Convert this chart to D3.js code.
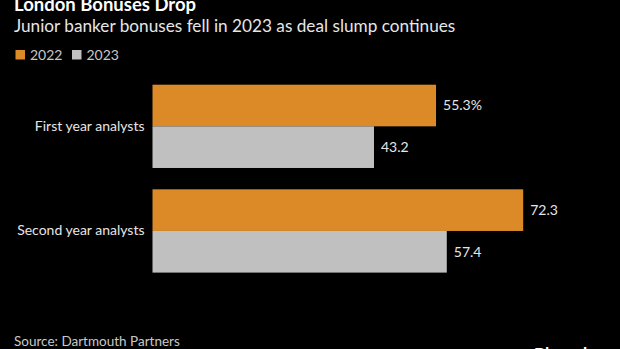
<!DOCTYPE html>
<html>
<head>
<meta charset="utf-8">
<script src="https://cdn.jsdelivr.net/npm/d3@7"></script>
<style>
  html, body { margin: 0; padding: 0; background: #000; }
  svg { display: block; }
  text { font-family: Lato, "Open Sans", sans-serif; fill: #e6e6e6; }
</style>
</head>
<body>
<svg></svg>
<script>
// bonus change by analyst year, percent
let categories = ["First year analysts", "Second year analysts"];
let years = ["2022", "2023"];
let values2022 = [55.3, 72.3];
let values2023 = [43.2, 57.4];
let valueLabels2022 = ["55.3%", "72.3"];
let valueLabels2023 = ["43.2", "57.4"];

let colors = { "2022": "#dc8a28", "2023": "#c0c0c0" };

let svgWidth = 620, svgHeight = 349;

let svg = d3.select("svg")
    .attr("width", svgWidth)
    .attr("height", svgHeight);

svg.append("rect")
    .attr("width", svgWidth)
    .attr("height", svgHeight)
    .attr("fill", "#000");

// header
svg.append("text")
    .attr("x", 14).attr("y", 11)
    .attr("font-size", 18.5).attr("font-weight", 700)
    .style("fill", "#fff")
    .text("London Bonuses Drop");

svg.append("text")
    .attr("x", 14).attr("y", 31.5)
    .attr("font-size", 17.2)
    .text("Junior banker bonuses fell in 2023 as deal slump continues");

// legend
let legend = svg.append("g").attr("transform", "translate(15.5,50)");
let legendX = [0, 56.5];
years.forEach(function (yr, i) {
    legend.append("rect")
        .attr("x", legendX[i]).attr("y", 0)
        .attr("width", 9.5).attr("height", 9.5)
        .attr("fill", colors[yr]);
    legend.append("text")
        .attr("x", legendX[i] + 14.5).attr("y", 9.5)
        .attr("font-size", 14)
        .style("fill", "#c8c8c8")
        .text(yr);
});

// plot
let margin = { left: 152.5, top: 84.7 };
let x = d3.scaleLinear()
    .domain([0, 10])
    .range([0, 51.27]);

let y0 = d3.scaleBand()
    .domain(categories)
    .range([0, 187.9])
    .paddingInner(0.204)
    .paddingOuter(0);

let y1 = d3.scaleBand()
    .domain(years)
    .range([0, y0.bandwidth()]);

let g = svg.append("g")
    .attr("transform", "translate(" + margin.left + "," + margin.top + ")");

let rows = categories.map(function (c, i) {
    return {
        cat: c,
        bars: [
            { year: "2022", value: values2022[i], label: valueLabels2022[i] },
            { year: "2023", value: values2023[i], label: valueLabels2023[i] }
        ]
    };
});

let group = g.selectAll(".row")
    .data(rows)
    .enter().append("g")
    .attr("class", "row")
    .attr("transform", function (d) { return "translate(0," + y0(d.cat) + ")"; });

group.selectAll("rect")
    .data(function (d) { return d.bars; })
    .enter().append("rect")
    .attr("x", 0)
    .attr("y", function (d) { return y1(d.year); })
    .attr("width", function (d) { return x(d.value); })
    .attr("height", y1.bandwidth())
    .attr("fill", function (d) { return colors[d.year]; });

group.selectAll(".val")
    .data(function (d) { return d.bars; })
    .enter().append("text")
    .attr("class", "val")
    .attr("x", function (d) { return x(d.value) + 7; })
    .attr("y", function (d) { return y1(d.year) + y1.bandwidth() / 2; })
    .attr("dy", "0.35em")
    .attr("font-size", 14)
    .text(function (d) { return d.label; });

// category axis
g.append("g")
    .call(d3.axisLeft(y0).tickSize(0).tickPadding(8))
    .call(function (a) { a.select(".domain").remove(); })
    .selectAll("text")
    .attr("font-size", 14)
    .style("font-family", "Lato, 'Open Sans', sans-serif")
    .style("fill", "#e6e6e6");

// footer
svg.append("text")
    .attr("x", 14).attr("y", 345.5)
    .attr("font-size", 13.5)
    .style("fill", "#c8c8c8")
    .text("Source: Dartmouth Partners");

svg.append("text")
    .attr("x", 534).attr("y", 360)
    .attr("font-size", 17).attr("font-weight", 700)
    .style("fill", "#fff")
    .text("Bloomberg");
</script>
</body>
</html>
